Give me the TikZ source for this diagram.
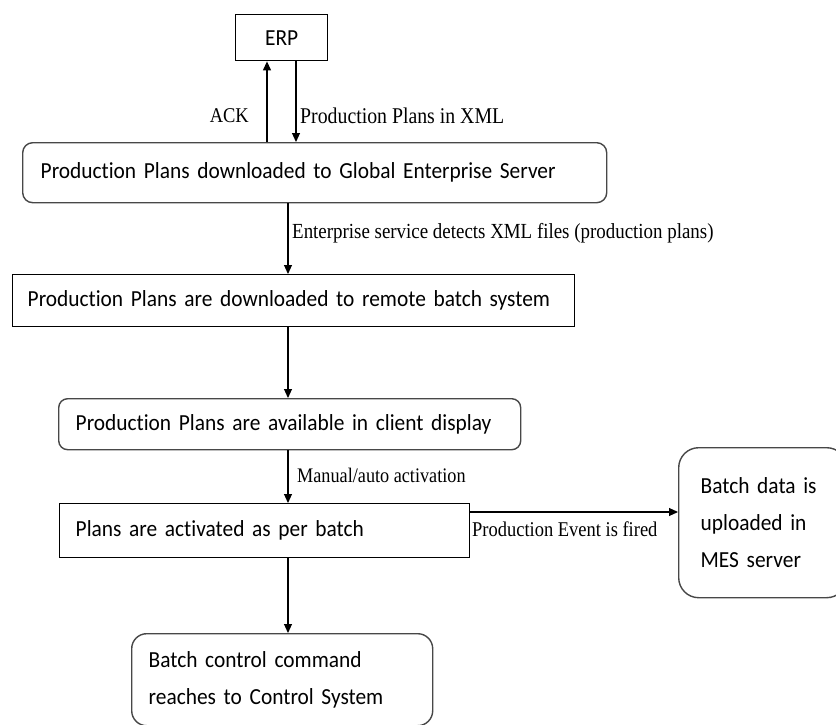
\documentclass[tikz,border=0pt]{standalone}
\usepackage{fontspec}
\setmainfont{Carlito}
\newfontfamily\boxfont[FakeStretch=0.93, Ligatures={NoCommon}]{Carlito}
\newfontfamily\labfont[FakeStretch=0.88]{Liberation Serif}
\newcommand\boxtext{\boxfont\fontsize{23}{37}\selectfont}
\usetikzlibrary{arrows.meta}
\hyphenpenalty=10000
\begin{document}
\begin{tikzpicture}[x=1pt,y=-1pt,
  plainbox/.style={draw=black, line width=1.4pt, anchor=north west,
    align=left, inner ysep=0pt, font=\boxtext},
  softbox/.style={plainbox, draw=black!72, line width=1.4pt},
  arr/.style={draw=black, line width=1.1pt, -{Triangle[length=9pt,width=8pt]}},
  lab/.style={inner sep=0pt, font=\labfont\fontsize{21}{24}\selectfont}]
\useasboundingbox (0,0) rectangle (836,725);

% process steps
\node[plainbox, align=center, text width=80pt, inner xsep=6pt, minimum height=46pt]
  (erp) at (235,14) {ERP};
\node[softbox, rounded corners=10pt, text width=548pt, inner xsep=18pt, minimum height=60pt]
  (global) at (22,142) {\mbox{Production Plans downloaded to Global Enterprise Server}};
\node[plainbox, text width=532pt, inner xsep=15pt, minimum height=52pt]
  (remote) at (12,274) {\mbox{Production Plans are downloaded to remote batch system}};
\node[softbox, rounded corners=9pt, text width=428pt, inner xsep=17pt, minimum height=51pt]
  (client) at (58,398) {\mbox{Production Plans are available in client display}};
\node[plainbox, text width=378pt, inner xsep=16pt, minimum height=54pt]
  (active) at (59,503) {Plans are activated as per batch};
\node[softbox, rounded corners=20pt, text width=124pt, inner xsep=22pt, minimum height=150pt]
  (mes) at (678,447) {Batch data is\\uploaded in\\MES server};
\node[softbox, rounded corners=15pt, text width=267pt, inner xsep=17pt, minimum height=92pt]
  (control) at (131,633) {Batch control command\\reaches to Control System};

% connector lanes
\coordinate (ackx) at (267,0);
\coordinate (xmlx) at (296,0);
\coordinate (mainx) at (288,0);
\coordinate (evty) at (0,512);

\draw[arr] (ackx |- global.north) -- (ackx |- erp.south);
\draw[arr] (xmlx |- erp.south) -- (xmlx |- global.north);
\draw[arr] (mainx |- global.south) -- (mainx |- remote.north);
\draw[arr] (mainx |- remote.south) -- (mainx |- client.north);
\draw[arr] (mainx |- client.south) -- (mainx |- active.north);
\draw[arr] (mainx |- active.south) -- (mainx |- control.north);
\draw[arr] (active.east |- evty) -- (mes.west |- evty);

% connector labels
\node[lab, anchor=east] (acklab) at (249,116) {ACK};
\node[lab, anchor=west, font=\labfont\fontsize{22.5}{24}\selectfont] (xmllab) at (300,116) {Production Plans in XML};
\node[lab, anchor=west, font=\labfont\fontsize{21.5}{24}\selectfont] (detlab) at (292,233) {Enterprise service detects XML files (production plans)};
\node[lab, anchor=west, font=\labfont\fontsize{20.7}{24}\selectfont] (manlab) at (297,475) {Manual/auto activation};
\node[lab, anchor=west] (evtlab) at (472,529) {Production Event is fired};
\end{tikzpicture}
\end{document}
